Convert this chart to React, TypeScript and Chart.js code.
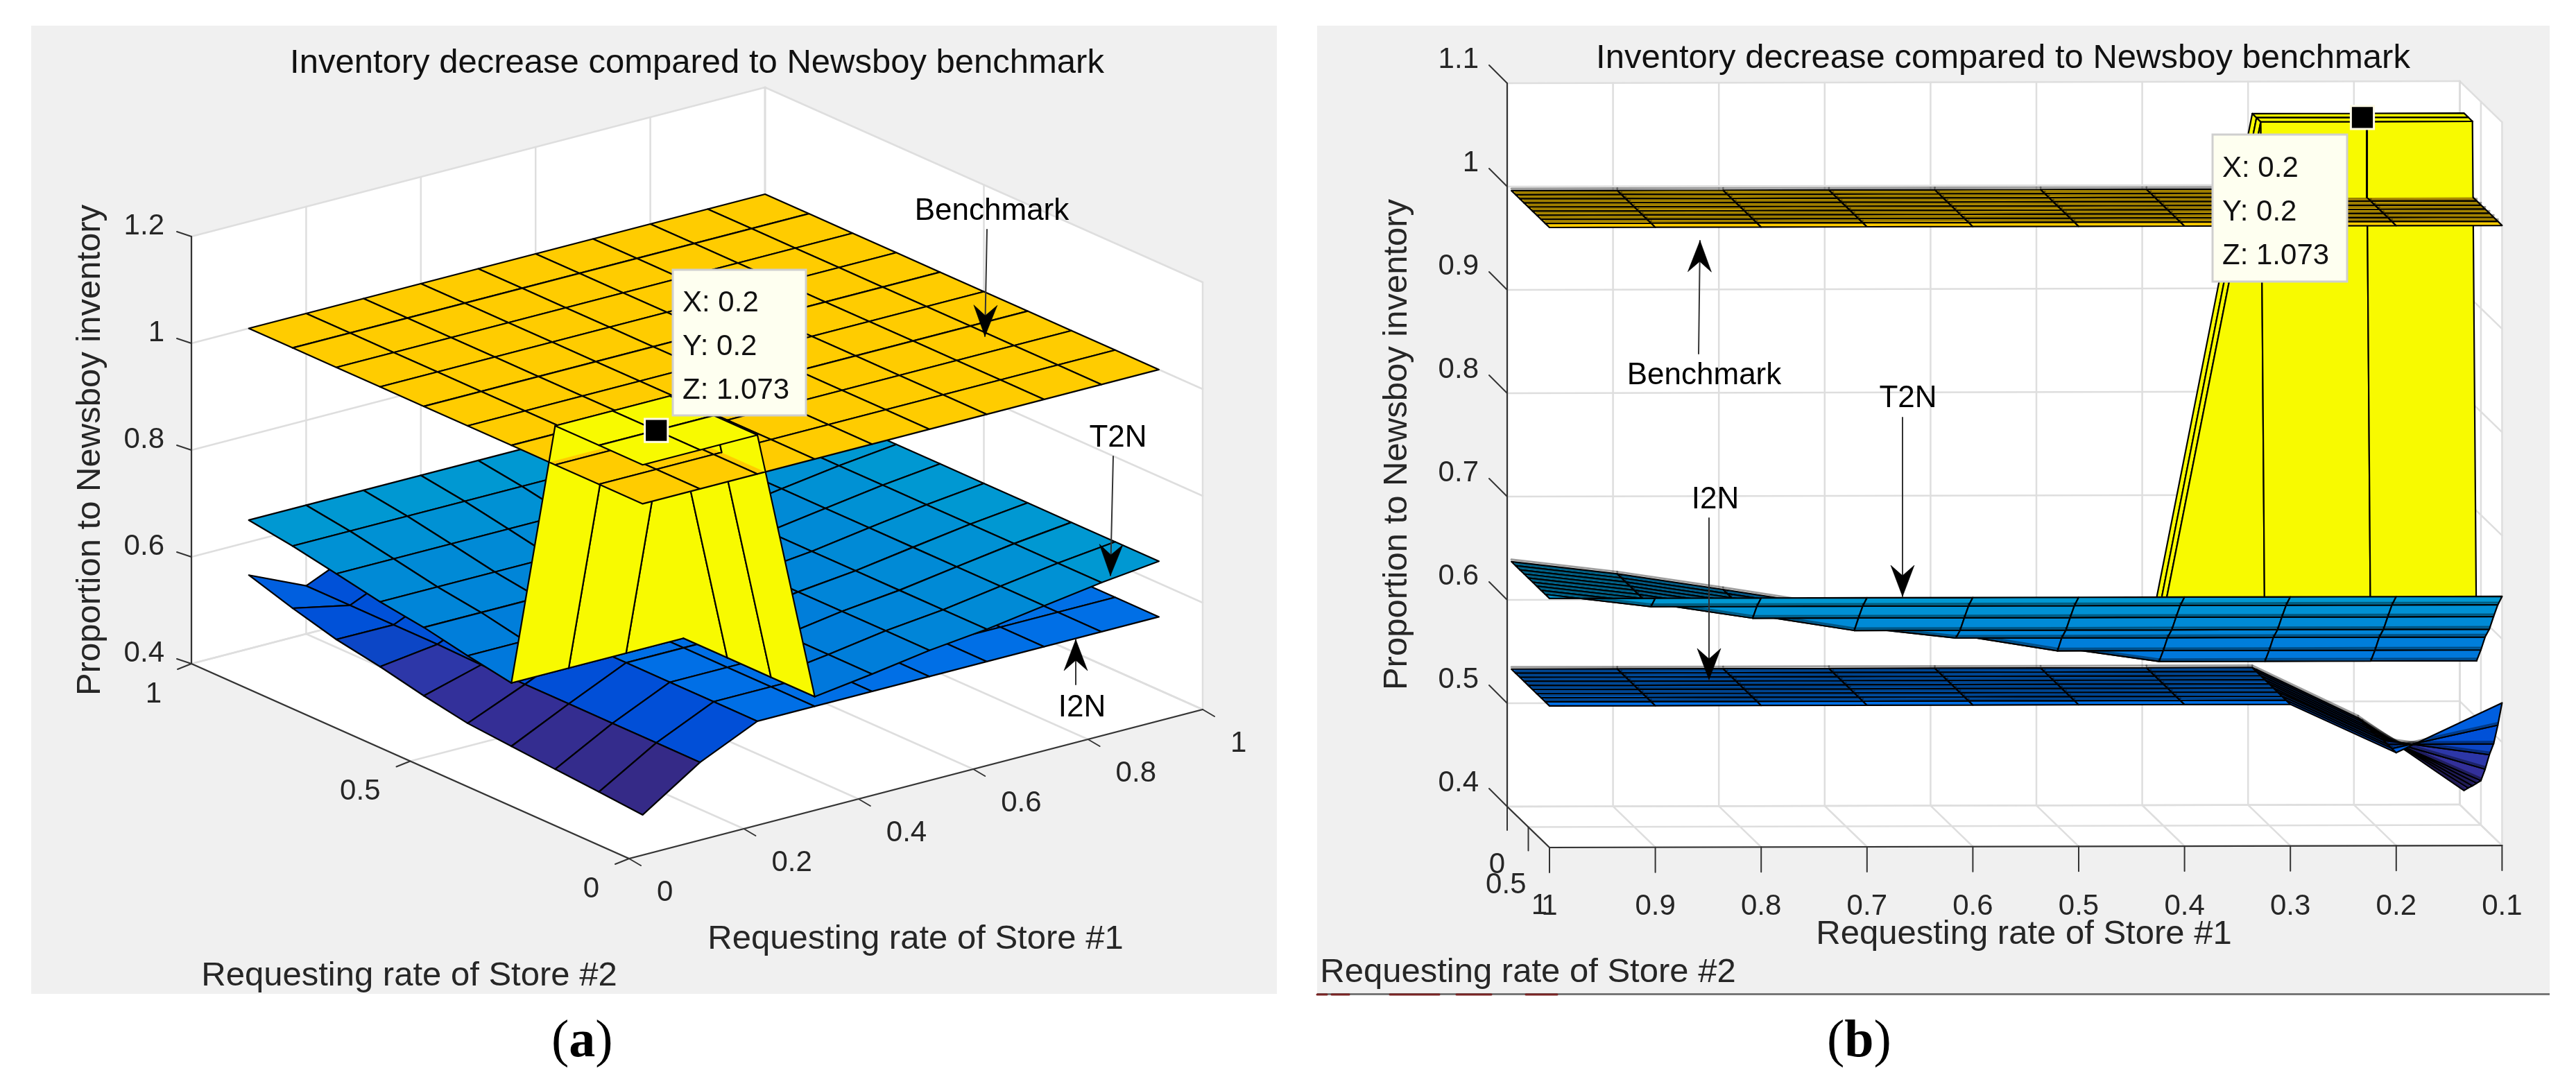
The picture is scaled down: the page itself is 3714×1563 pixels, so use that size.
import React, { useEffect, useRef } from 'react';
import { Chart, registerables } from 'chart.js';
Chart.register(...registerables);

// ---- data ----
const storeRates = [0.1, 0.2, 0.3, 0.4, 0.5, 0.6, 0.7, 0.8, 0.9, 1];
// each row: one Store #1 rate (x), each column: one Store #2 rate (y)
const benchmark = storeRates.map(() => [1, 1, 1, 1, 1, 1, 1, 1, 1, 1]);
const t2n = [
  [1.073, 1.073, 1.073, 0.555, 0.5695, 0.586, 0.5975, 0.6136, 0.629, 0.641],
  [1.073, 1.073, 1.073, 0.555, 0.5695, 0.586, 0.5975, 0.6136, 0.629, 0.641],
  [1.073, 1.073, 1.073, 0.555, 0.5695, 0.586, 0.5975, 0.6136, 0.629, 0.641],
  [0.555, 0.555, 0.555, 0.555, 0.5695, 0.586, 0.5975, 0.6136, 0.629, 0.641],
  [0.5695, 0.5695, 0.5695, 0.5695, 0.5695, 0.586, 0.5975, 0.6136, 0.629, 0.641],
  [0.586, 0.586, 0.586, 0.586, 0.586, 0.586, 0.5975, 0.6136, 0.629, 0.641],
  [0.5975, 0.5975, 0.5975, 0.5975, 0.5975, 0.5975, 0.5975, 0.6136, 0.629, 0.641],
  [0.6136, 0.6136, 0.6136, 0.6136, 0.6136, 0.6136, 0.6136, 0.6136, 0.629, 0.641],
  [0.629, 0.629, 0.629, 0.629, 0.629, 0.629, 0.629, 0.629, 0.629, 0.641],
  [0.641, 0.641, 0.641, 0.641, 0.641, 0.641, 0.641, 0.641, 0.641, 0.641],
];
const i2n = [
  [0.4175, 0.424, 0.43, 0.4365, 0.443, 0.458, 0.476, 0.4905, 0.5125, 0.538],
  [0.488, 0.488, 0.488, 0.488, 0.488, 0.488, 0.49, 0.49, 0.49, 0.49],
  [0.537, 0.537, 0.537, 0.537, 0.537, 0.537, 0.537, 0.537, 0.537, 0.537],
  [0.537, 0.537, 0.537, 0.537, 0.537, 0.537, 0.537, 0.537, 0.537, 0.537],
  [0.537, 0.537, 0.537, 0.537, 0.537, 0.537, 0.537, 0.537, 0.537, 0.537],
  [0.537, 0.537, 0.537, 0.537, 0.537, 0.537, 0.537, 0.537, 0.537, 0.537],
  [0.537, 0.537, 0.537, 0.537, 0.537, 0.537, 0.537, 0.537, 0.537, 0.537],
  [0.537, 0.537, 0.537, 0.537, 0.537, 0.537, 0.537, 0.537, 0.537, 0.537],
  [0.537, 0.537, 0.537, 0.537, 0.537, 0.537, 0.537, 0.537, 0.537, 0.537],
  [0.537, 0.537, 0.537, 0.537, 0.537, 0.537, 0.537, 0.537, 0.537, 0.537],
];
const tipPoint = [0.2, 0.2, 1.073];
const tipLines = ['X: 0.2', 'Y: 0.2', 'Z: 1.073'];
const titleText = 'Inventory decrease compared to Newsboy benchmark';
const zLabelText = 'Proportion to Newsboy inventory';
const store1Text = 'Requesting rate of Store #1';
const store2Text = 'Requesting rate of Store #2';

const aXTicks = [0, 0.2, 0.4, 0.6, 0.8, 1];
const aYTicks = [0, 0.5, 1];
const aZTicks = [0.4, 0.6, 0.8, 1, 1.2];
const bXTicks = [1, 0.9, 0.8, 0.7, 0.6, 0.5, 0.4, 0.3, 0.2, 0.1];
const bYTicks = [0, 0.5, 1];
const bZTicks = [0.4, 0.5, 0.6, 0.7, 0.8, 0.9, 1, 1.1];

const colourLevels = [0.4175, 0.443, 0.46, 0.476, 0.489, 0.537, 0.555, 0.629, 1, 1.073];
const colourValues = ['#352a87', '#33309a', '#2c38aa', '#0c46c6', '#0050d8', '#006fe6', '#0078dc', '#0098d2', '#ffcc00', '#f8fa00'];

// ---- helpers ----
type P3 = [number, number, number];
const hex = (s: string) => [1, 3, 5].map((k) => parseInt(s.slice(k, k + 2), 16));
function colourFor(z: number) {
  if (z <= colourLevels[0]) return colourValues[0];
  for (let k = 1; k < colourLevels.length; k++) {
    if (z <= colourLevels[k]) {
      const t = (z - colourLevels[k - 1]) / (colourLevels[k] - colourLevels[k - 1]);
      const a = hex(colourValues[k - 1]);
      const b = hex(colourValues[k]);
      return `rgb(${a.map((v, m) => Math.round(v + (b[m] - v) * t)).join(',')})`;
    }
  }
  return colourValues[colourValues.length - 1];
}

function clip(poly: P3[], above: boolean): P3[] {
  const out: P3[] = [];
  const inside = (p: P3) => (above ? p[2] >= 1 : p[2] <= 1);
  for (let k = 0; k < poly.length; k++) {
    const a = poly[k];
    const b = poly[(k + 1) % poly.length];
    if (inside(a)) out.push(a);
    if (inside(a) !== inside(b) && a[2] !== 1 && b[2] !== 1) {
      const t = (1 - a[2]) / (b[2] - a[2]);
      out.push([a[0] + (b[0] - a[0]) * t, a[1] + (b[1] - a[1]) * t, 1]);
    }
  }
  return out;
}

function quads(m: number[][]) {
  const r: { pts: P3[]; z: number; x: number; y: number }[] = [];
  for (let i = 0; i < 9; i++)
    for (let j = 0; j < 9; j++) {
      const X = storeRates;
      r.push({
        pts: [
          [X[i], X[j], m[i][j]],
          [X[i + 1], X[j], m[i + 1][j]],
          [X[i + 1], X[j + 1], m[i + 1][j + 1]],
          [X[i], X[j + 1], m[i][j + 1]],
        ],
        z: m[i][j],
        x: X[i] + 0.05,
        y: X[j] + 0.05,
      });
    }
  return r;
}

type Panel = {
  xMin: number; xMax: number;
  proj: (x: number, y: number, z: number) => { x: number; y: number };
  depth: (x: number, y: number) => number;
  wallsBeforeT2n: boolean;
  rowShade: boolean;
  frame: (ds: any) => void;
  arrows: number[][];
  tipBox: number[];
  tipTextX: number;
  tipBase: number[];
  texts: any[];
  panelRect: number[];
  bottomRule: boolean;
  caption: { x: number; letter: string };
};

function buildDatasets(p: Panel) {
  const ds: any[] = [];
  const base = { showLine: true, pointRadius: 0, tension: 0, clip: false, borderJoinStyle: 'round', borderCapStyle: 'round' };
  const poly = (pts: P3[], fill: string, stroke?: string, w = 2.2) => {
    const d = pts.map((q) => p.proj(q[0], q[1], q[2]));
    ds.push({ ...base, data: stroke ? [...d, d[0]] : d, polyFill: fill, borderColor: stroke || 'rgba(0,0,0,0)', borderWidth: stroke ? w : 0 });
  };
  const seg = (a: P3, b: P3, c: string, w: number) =>
    ds.push({ ...base, data: [p.proj(a[0], a[1], a[2]), p.proj(b[0], b[1], b[2])], borderColor: c, borderWidth: w });
  const helpers = {
    poly, seg,
    raw: (pts: { x: number; y: number }[], c: string, w: number, fill?: string) =>
      ds.push({ ...base, data: pts, borderColor: c, borderWidth: w, polyFill: fill }),
  };
  p.frame(helpers);

  const sorted = (list: ReturnType<typeof quads>) => [...list].sort((a, b) => p.depth(b.x, b.y) - p.depth(a.x, a.y));
  const drawQ = (list: ReturnType<typeof quads>, shade = false) =>
    sorted(list).forEach((q) => {
      poly(q.pts, colourFor(q.z), '#000');
      if (shade && p.rowShade) {
        const [a, b] = q.pts;
        seg([a[0], a[1], a[2] + 0.002], [b[0], b[1], b[2] + 0.002], 'rgba(0,0,0,0.38)', 3);
      }
    });

  const t = quads(t2n);
  const flat = t.filter((q) => q.pts.every((v) => v[2] < 1));
  const walls = t.filter((q) => q.pts.some((v) => v[2] > 1) && q.pts.some((v) => v[2] < 1));
  const top = t.filter((q) => q.pts.every((v) => v[2] > 1));

  const clipped = (q: (typeof t)[number], above: boolean) => {
    const c = clip(q.pts, above);
    if (c.length < 3) return;
    poly(c, colourFor(q.z));
    c.forEach((a, k) => {
      const b = c[(k + 1) % c.length];
      if (!(a[2] === 1 && b[2] === 1)) seg(a, b, '#000', 2.2);
    });
  };
  const wallsLower = () => sorted(walls).forEach((q) => clipped(q, false));
  const wallsUpper = () => sorted(walls).forEach((q) => clipped(q, true));

  drawQ(quads(i2n), true);
  if (p.wallsBeforeT2n) {
    wallsLower();
    drawQ(flat, true);
  } else {
    drawQ(flat, true);
    wallsLower();
  }
  drawQ(quads(benchmark), true);
  wallsUpper();
  drawQ(top);

  // annotation arrows: [fromX, fromY, tipX, tipY]
  p.arrows.forEach(([x0, y0, x1, y1]) => {
    helpers.raw([{ x: x0, y: y0 }, { x: x1, y: y1 }], '#333', 2);
    const len = Math.hypot(x1 - x0, y1 - y0);
    const ux = (x1 - x0) / len;
    const uy = (y1 - y0) / len;
    const L = 45;
    const H = 17;
    const N = 30;
    helpers.raw(
      [
        { x: x1, y: y1 },
        { x: x1 - ux * L - uy * H, y: y1 - uy * L + ux * H },
        { x: x1 - ux * N, y: y1 - uy * N },
        { x: x1 - ux * L + uy * H, y: y1 - uy * L - ux * H },
      ],
      'rgba(0,0,0,0)', 0, '#000'
    );
  });

  // data-tip marker
  ds.push({
    showLine: false, clip: false,
    data: [p.proj(tipPoint[0], tipPoint[1], tipPoint[2])],
    pointStyle: 'rect', pointRadius: 23.5, pointBackgroundColor: '#000', pointBorderColor: '#fffbe8', pointBorderWidth: 3,
  });
  ds.forEach((d, k) => { d.order = ds.length - k; });
  return ds;
}

const polygonFill = {
  id: 'polygonFill',
  beforeDatasetDraw(chart: any, args: any) {
    const d = chart.data.datasets[args.index];
    if (!d.polyFill) return;
    const pts = args.meta.data;
    const c = chart.ctx;
    c.save();
    c.beginPath();
    pts.forEach((q: any, k: number) => (k ? c.lineTo(q.x, q.y) : c.moveTo(q.x, q.y)));
    c.closePath();
    c.fillStyle = d.polyFill;
    c.strokeStyle = d.polyFill;
    c.lineWidth = 0.6;
    c.fill();
    c.stroke();
    c.restore();
  },
};

const makePanelPlugin = (p: Panel) => ({
  id: 'panelDecor',
  beforeDraw(chart: any) {
    const c = chart.ctx;
    const X = (v: number) => chart.scales.x.getPixelForValue(v);
    const Y = (v: number) => chart.scales.y.getPixelForValue(v);
    c.save();
    c.fillStyle = '#fff';
    c.fillRect(0, 0, chart.width, chart.height);
    const [x0, y0, x1, y1] = p.panelRect;
    c.fillStyle = '#f0f0f0';
    c.fillRect(X(x0), Y(y0), X(x1) - X(x0), Y(y1) - Y(y0));
    if (p.bottomRule) {
      c.fillStyle = '#777777';
      c.fillRect(X(x0), Y(y1 - 1), X(x1) - X(x0), 3);
    }
    c.restore();
  },
  afterDatasetsDraw(chart: any) {
    const c = chart.ctx;
    const X = (v: number) => chart.scales.x.getPixelForValue(v);
    const Y = (v: number) => chart.scales.y.getPixelForValue(v);
    c.save();
    const [bx0, by0, bx1, by1] = p.tipBox;
    c.fillStyle = '#fefff0';
    c.strokeStyle = '#cfcfcf';
    c.lineWidth = 3;
    c.fillRect(X(bx0), Y(by0), X(bx1) - X(bx0), Y(by1) - Y(by0));
    c.strokeRect(X(bx0), Y(by0), X(bx1) - X(bx0), Y(by1) - Y(by0));
    c.textBaseline = 'alphabetic';
    c.textAlign = 'left';
    c.fillStyle = '#111';
    c.font = '42px "Liberation Sans"';
    tipLines.forEach((t, k) => c.fillText(t, X(p.tipTextX), Y(p.tipBase[k])));

    c.textBaseline = 'middle';
    p.texts.forEach((t) => {
      c.save();
      c.font = `${t.size}px "Liberation Sans"`;
      c.fillStyle = t.color || '#262626';
      c.textAlign = t.align || 'center';
      c.translate(X(t.x), Y(t.y));
      if (t.rotate) c.rotate(t.rotate);
      c.fillText(t.text, 0, 0);
      c.restore();
    });

    // (a) / (b) caption
    const cy = 1503;
    let cx = X(p.caption.x);
    c.textAlign = 'left';
    c.fillStyle = '#000';
    [['(', false], [p.caption.letter, true], [')', false]].forEach(([s, bold]: any) => {
      c.font = `${bold ? 'bold ' : ''}76px "Liberation Serif"`;
      c.fillText(s, cx, Y(cy));
      cx += c.measureText(s).width;
    });
    c.restore();
  },
});

// ---- panel (a) ----
const projA = (x: number, y: number, z: number) => ({
  x: 907 + 827 * x - 631 * y,
  y: 1238 - 215 * x - 281 * y - 770 * (z - 0.4),
});
const GRID = '#dedede';
const AX = '#333333';

const panelA: Panel = {
  xMin: 0, xMax: 1860,
  proj: projA,
  depth: (x, y) => x + y,
  wallsBeforeT2n: false,
  rowShade: false,
  panelRect: [45, 37, 1841, 1433],
  bottomRule: false,
  caption: { x: 795, letter: 'a' },
  arrows: [
    [1423, 331, 1420, 485],
    [1605, 658, 1601, 830],
    [1551, 987, 1551, 922],
  ],
  tipBox: [970, 389, 1162, 599],
  tipTextX: 984,
  tipBase: [449, 512, 575],
  frame: ({ poly, seg, raw }: any) => {
    const zLo = 0.4, zHi = 1.2;
    poly([[0, 1, zLo], [1, 1, zLo], [1, 1, zHi], [0, 1, zHi]], '#fff');
    poly([[1, 1, zLo], [1, 0, zLo], [1, 0, zHi], [1, 1, zHi]], '#fff');
    poly([[0, 0, zLo], [1, 0, zLo], [1, 1, zLo], [0, 1, zLo]], '#fff');
    aZTicks.forEach((z) => {
      seg([0, 1, z], [1, 1, z], GRID, 2.5);
      seg([1, 1, z], [1, 0, z], GRID, 2.5);
    });
    aXTicks.forEach((x) => {
      seg([x, 1, zLo], [x, 1, zHi], x === 1 ? '#c4c4c4' : GRID, 2.5);
      seg([x, 0, zLo], [x, 1, zLo], GRID, 2.5);
    });
    aYTicks.forEach((y) => {
      seg([1, y, zLo], [1, y, zHi], GRID, 2.5);
      seg([0, y, zLo], [1, y, zLo], GRID, 2.5);
    });
    seg([0, 1, zLo], [0, 1, zHi], AX, 2.2);
    seg([0, 0, zLo], [0, 1, zLo], AX, 2.2);
    seg([0, 0, zLo], [1, 0, zLo], AX, 2.2);
    aZTicks.forEach((z) => {
      const q = projA(0, 1, z);
      raw([q, { x: q.x - 21, y: q.y - 7 }], AX, 2);
    });
    aYTicks.forEach((y) => {
      const q = projA(0, y, zLo);
      raw([q, { x: q.x - 20, y: q.y + 8 }], AX, 2);
    });
    aXTicks.forEach((x) => {
      const q = projA(x, 0, zLo);
      raw([q, { x: q.x + 17, y: q.y + 10 }], AX, 2);
    });
  },
  texts: [
    { text: titleText, x: 1005, y: 91, size: 49, color: '#111' },
    { text: zLabelText, x: 130, y: 649, size: 49, rotate: -Math.PI / 2 },
    { text: store1Text, x: 1320, y: 1354, size: 49 },
    { text: store2Text, x: 590, y: 1407, size: 49 },
    { text: 'Benchmark', x: 1430, y: 305, size: 44, color: '#000' },
    { text: 'T2N', x: 1612, y: 632, size: 44, color: '#000' },
    { text: 'I2N', x: 1560, y: 1021, size: 44, color: '#000' },
    ...aZTicks.map((z) => ({ text: String(z), x: 237, y: projA(0, 1, z).y - 15, size: 42, align: 'right' })),
    ...aYTicks.map((y) => ({ text: String(y), x: projA(0, y, 0.4).x - 43, y: projA(0, y, 0.4).y + 44, size: 42, align: 'right' })),
    ...aXTicks.map((x) => ({ text: String(x), x: projA(x, 0, 0.4).x + 40, y: projA(x, 0, 0.4).y + 49, size: 42, align: 'left' })),
  ],
};

// ---- panel (b) ----
const projB = (x: number, y: number, z: number) => ({
  x: 2234 + 1526 * (1 - x) - 61 * (1 - y),
  y: 1222 - 3.3 * (1 - x) - 59 * (1 - y) - 1490 * (z - 0.4),
});

const panelB: Panel = {
  xMin: 1860, xMax: 3714,
  proj: projB,
  depth: (x, y) => -y + 0.001 * x,
  wallsBeforeT2n: true,
  rowShade: true,
  panelRect: [1899, 37, 3676, 1433],
  bottomRule: true,
  caption: { x: 2634, letter: 'b' },
  arrows: [
    [2449, 510, 2451, 347],
    [2743, 602, 2743, 860],
    [2464, 747, 2464, 980],
  ],
  tipBox: [3190, 194, 3384, 406],
  tipTextX: 3204,
  tipBase: [255, 318, 381],
  frame: ({ poly, seg, raw }: any) => {
    const zLo = 0.4, zHi = 1.1, xL = 1, xR = 0.1;
    poly([[xL, 0, zLo], [xR, 0, zLo], [xR, 0, zHi], [xL, 0, zHi]], '#fff');
    poly([[xR, 0, zLo], [xR, 1, zLo], [xR, 1, zHi], [xR, 0, zHi]], '#fff');
    poly([[xL, 0, zLo], [xR, 0, zLo], [xR, 1, zLo], [xL, 1, zLo]], '#fff');
    bZTicks.forEach((z) => {
      seg([xL, 0, z], [xR, 0, z], GRID, 2.5);
      seg([xR, 0, z], [xR, 1, z], GRID, 2.5);
    });
    bXTicks.forEach((x) => {
      seg([x, 0, zLo], [x, 0, zHi], x === 0.1 ? '#c4c4c4' : GRID, 2.5);
      seg([x, 0, zLo], [x, 1, zLo], GRID, 2.5);
    });
    bYTicks.forEach((y) => {
      seg([xR, y, zLo], [xR, y, zHi], GRID, 2.5);
      seg([xL, y, zLo], [xR, y, zLo], GRID, 2.5);
    });
    seg([xL, 0, zLo], [xL, 0, zHi], AX, 2.2);
    seg([xL, 0, zLo], [xL, 1, zLo], AX, 2.2);
    seg([xL, 1, zLo], [xR, 1, zLo], AX, 2.2);
    bZTicks.forEach((z) => {
      const q = projB(xL, 0, z);
      raw([q, { x: q.x - 26, y: q.y - 26 }], AX, 2);
    });
    bYTicks.forEach((y) => {
      const q = projB(xL, y, zLo);
      raw([q, { x: q.x, y: q.y + 34 }], AX, 2);
    });
    bXTicks.forEach((x) => {
      const q = projB(x, 1, zLo);
      raw([q, { x: q.x, y: q.y + 36 }], AX, 2);
    });
    // cut-off text remnant along the bottom rule of the screenshot
    ds_remnant(raw);
  },
  texts: [
    { text: titleText, x: 2888, y: 84, size: 49, color: '#111' },
    { text: zLabelText, x: 2014, y: 641, size: 49, rotate: -Math.PI / 2 },
    { text: store1Text, x: 2918, y: 1347, size: 49 },
    { text: store2Text, x: 2203, y: 1402, size: 49 },
    { text: 'Benchmark', x: 2457, y: 542, size: 44, color: '#000' },
    { text: 'T2N', x: 2751, y: 575, size: 44, color: '#000' },
    { text: 'I2N', x: 2473, y: 721, size: 44, color: '#000' },
    ...bZTicks.map((z) => ({ text: String(z), x: 2132, y: projB(1, 0, z).y - 34, size: 42, align: 'right' })),
    ...bYTicks.map((y) => ({ text: String(y), x: projB(1, y, 0.4).x - 3, y: projB(1, y, 0.4).y + 84, size: 42, align: 'right' })),
    ...bXTicks.map((x) => ({ text: String(x), x: projB(x, 1, 0.4).x, y: 1307, size: 42 })),
  ],
};

function ds_remnant(raw: any) {
  [[1899, 1913], [1920, 1945], [2004, 2075], [2100, 2150], [2200, 2245]].forEach(([a, b]) =>
    raw([{ x: a, y: 1434 }, { x: b, y: 1434 }], '#7a2424', 3)
  );
}

function PanelChart({ p }: { p: Panel }) {
  const ref = useRef<HTMLCanvasElement>(null);
  useEffect(() => {
    const chart = new Chart(ref.current as HTMLCanvasElement, {
      type: 'scatter',
      data: { datasets: buildDatasets(p) },
      options: {
        animation: false,
        responsive: false,
        devicePixelRatio: 1,
        events: [],
        layout: { padding: 0, autoPadding: false },
        plugins: { legend: { display: false }, tooltip: { enabled: false }, title: { display: false } },
        scales: {
          x: { type: 'linear', display: false, min: p.xMin, max: p.xMax },
          y: { type: 'linear', display: false, min: 0, max: 1563, reverse: true },
        },
      },
      plugins: [polygonFill, makePanelPlugin(p)],
    } as any);
    return () => chart.destroy();
  }, [p]);
  return (
    <canvas
      ref={ref}
      width={p.xMax - p.xMin}
      height={1563}
      style={{ position: 'absolute', left: p.xMin, top: 0, width: p.xMax - p.xMin, height: 1563, display: 'block' }}
    />
  );
}

export default function App() {
  return (
    <div style={{ position: 'fixed', left: 0, top: 0, width: 3714, height: 1563, overflow: 'hidden', background: '#fff' }}>
      <PanelChart p={panelA} />
      <PanelChart p={panelB} />
    </div>
  );
}
